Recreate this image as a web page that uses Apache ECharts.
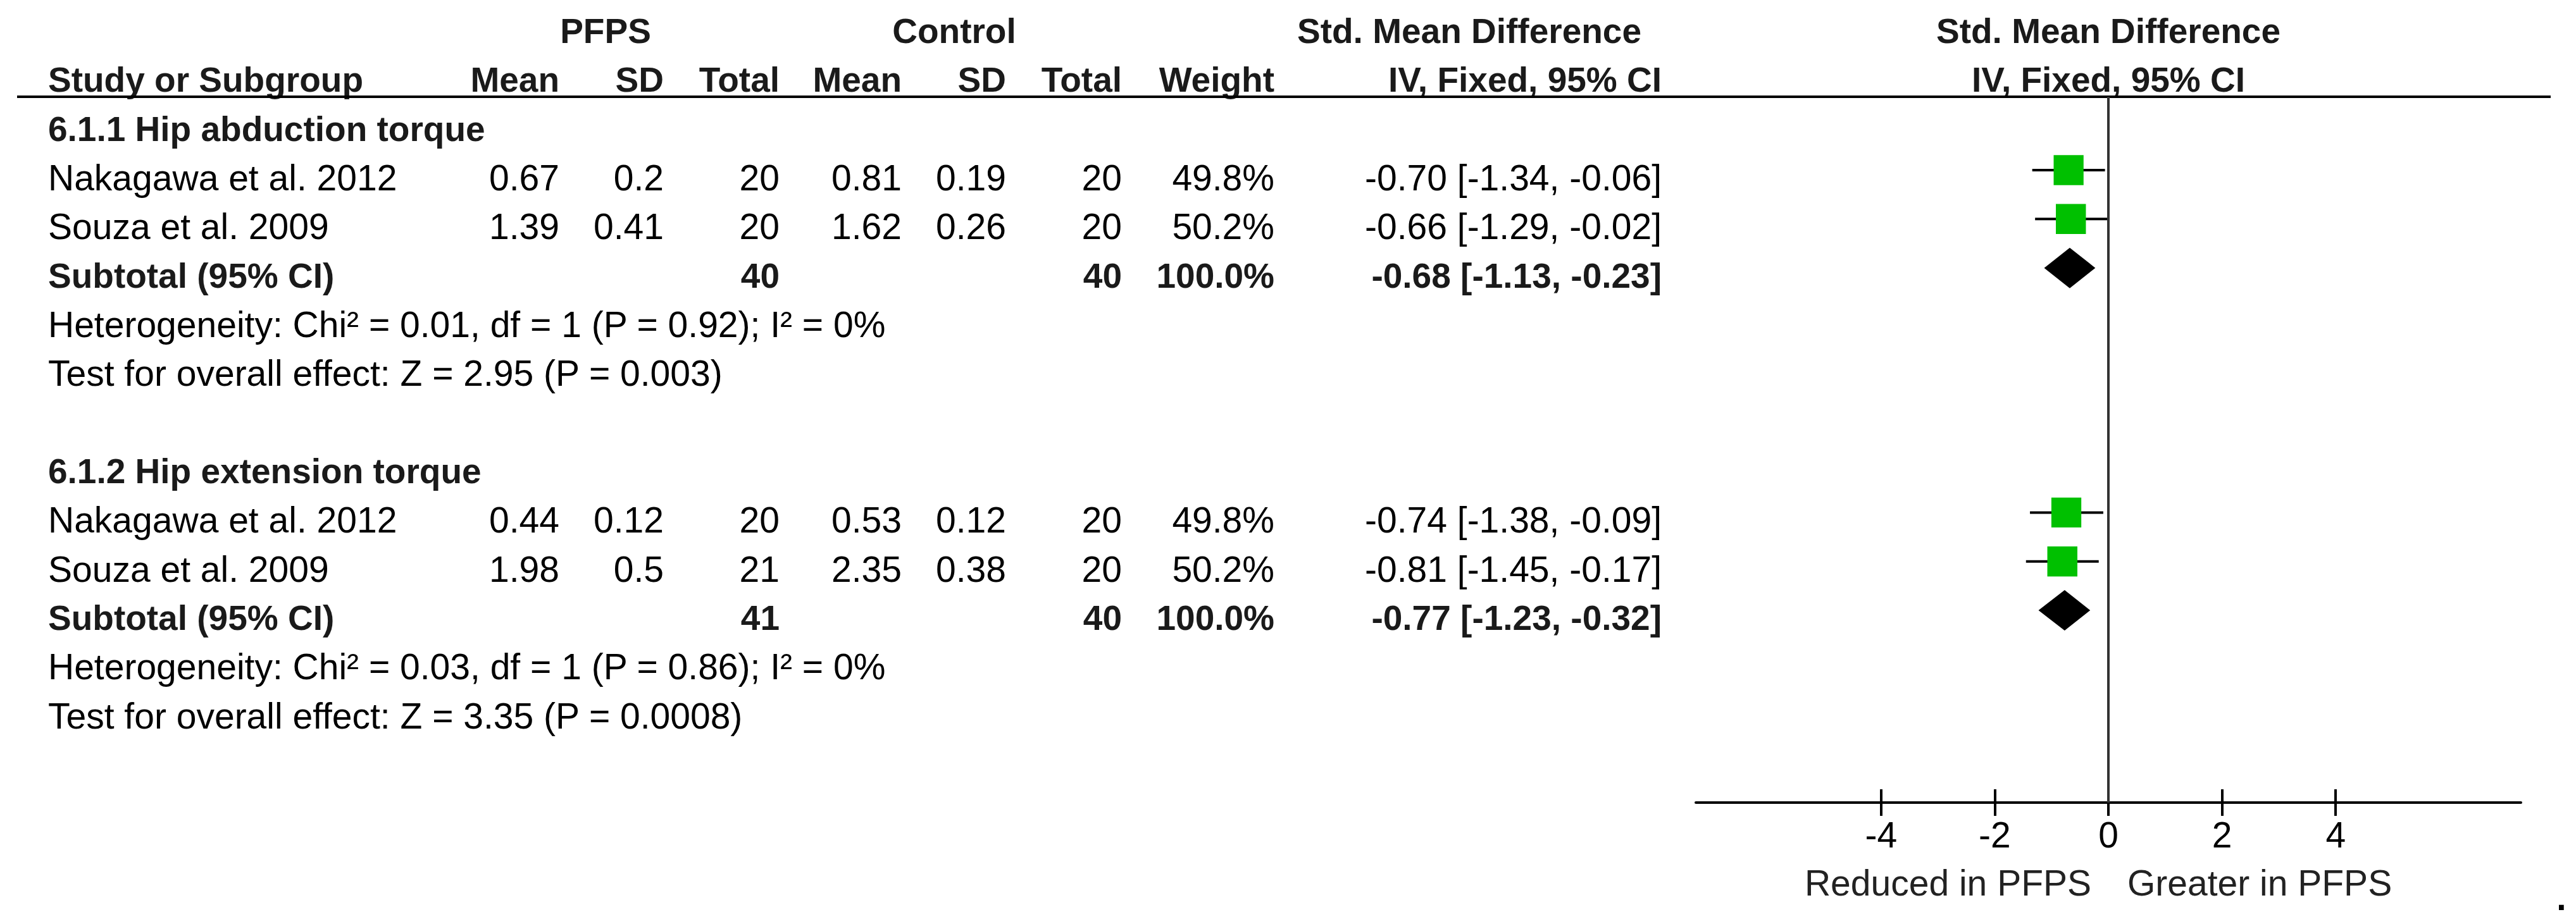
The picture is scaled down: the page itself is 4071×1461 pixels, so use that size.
<!DOCTYPE html>
<html><head><meta charset="utf-8">
<script src="https://cdn.jsdelivr.net/npm/echarts@6/dist/echarts.min.js"></script>
<style>html,body{margin:0;padding:0;background:#fff}#c{width:4071px;height:1461px}</style>
</head><body><div id="c"></div>
<script>
// ---------- data ----------
const groupNames = ['6.1.1 Hip abduction torque', '6.1.2 Hip extension torque'];
const studyNames = ['Nakagawa et al. 2012', 'Souza et al. 2009', 'Nakagawa et al. 2012', 'Souza et al. 2009'];
const studyGroup = [0, 0, 1, 1];
const pfpsMean = [0.67, 1.39, 0.44, 1.98];
const pfpsSD = [0.2, 0.41, 0.12, 0.5];
const pfpsTotal = [20, 20, 20, 21];
const ctrlMean = [0.81, 1.62, 0.53, 2.35];
const ctrlSD = [0.19, 0.26, 0.12, 0.38];
const ctrlTotal = [20, 20, 20, 20];
const weight = [49.8, 50.2, 49.8, 50.2];
const smd = [-0.70, -0.66, -0.74, -0.81];
const ciLow = [-1.34, -1.29, -1.38, -1.45];
const ciHigh = [-0.06, -0.02, -0.09, -0.17];
const subPfpsTotal = [40, 41];
const subCtrlTotal = [40, 40];
const subWeight = [100.0, 100.0];
const subSmd = [-0.68, -0.77];
const subLow = [-1.13, -1.23];
const subHigh = [-0.23, -0.32];
const hetChi = ['0.01', '0.03'];
const hetDf = [1, 1];
const hetP = ['0.92', '0.86'];
const hetI2 = [0, 0];
const effZ = ['2.95', '3.35'];
const effP = ['0.003', '0.0008'];
const tickValues = [-4, -2, 0, 2, 4];
const leftLabel = 'Reduced in PFPS';
const rightLabel = 'Greater in PFPS';

// ---------- layout ----------
const FONT = '"Liberation Sans", Arial, Helvetica, sans-serif';
const FS = 57, FSB = 55;
const COL = {name: 76, pM: 884, pSD: 1049, pN: 1232, cM: 1425, cSD: 1590, cN: 1773, w: 2014, ci: 2626};
const TEXT_DY = 12;

// row indices
const groupRow = [], studyRow = [], subRow = [], hetRow = [], testRow = [];
let k = 0;
for (let g = 0; g < groupNames.length; g++) {
  groupRow[g] = k++;
  for (let i = 0; i < studyNames.length; i++) if (studyGroup[i] === g) studyRow[i] = k++;
  subRow[g] = k++;
  hetRow[g] = k++;
  testRow[g] = k++;
  k++;
}

const squares = studyNames.map((n, i) => [smd[i], studyRow[i], weight[i]]);
const ciLines = studyNames.map((n, i) => [ciLow[i], ciHigh[i], studyRow[i]]);
const diamonds = groupNames.map((n, g) => [subSmd[g], subLow[g], subHigh[g], subRow[g]]);

const chart = echarts.init(document.getElementById('c'), null, {renderer: 'svg'});
const axisCommon = {type: 'value', min: -7.26, max: 7.26, gridIndex: 0, position: 'bottom', splitLine: {show: false}};
chart.setOption({
  animation: false,
  backgroundColor: '#fff',
  grid: {left: 2680, right: 87, top: 153, bottom: 192, containLabel: false},
  xAxis: [
    Object.assign({}, axisCommon, {
      axisLine: {show: true, onZero: false, lineStyle: {color: '#000', width: 4}},
      axisTick: {show: true, inside: false, length: 21, customValues: tickValues, lineStyle: {color: '#000', width: 4}},
      axisLabel: {show: true, customValues: tickValues, margin: 22, fontSize: FS, fontFamily: FONT, color: '#000'}
    }),
    Object.assign({}, axisCommon, {
      offset: 0,
      axisLine: {show: false, onZero: false},
      axisTick: {show: true, inside: true, length: 21, customValues: tickValues, lineStyle: {color: '#000', width: 4}},
      axisLabel: {show: false}
    })
  ],
  yAxis: {type: 'value', inverse: true, min: -0.5, max: 13.93, show: false},
  series: [
    {
      type: 'custom', name: 'ci', encode: {x: [0, 1], y: 2}, data: ciLines, silent: true, z: 2,
      renderItem: function (params, api) {
        const a = api.coord([api.value(0), api.value(2)]);
        const b = api.coord([api.value(1), api.value(2)]);
        return {type: 'line', shape: {x1: a[0], y1: a[1], x2: b[0], y2: b[1]}, style: {stroke: '#000', lineWidth: 4}};
      }
    },
    {
      type: 'scatter', name: 'study', data: squares, symbol: 'rect', z: 3, silent: true,
      symbolSize: function (v) { return Math.sqrt(v[2]) * 6.7; },
      itemStyle: {color: '#00c000', opacity: 1},
      markLine: {
        silent: true, symbol: ['none', 'none'], label: {show: false},
        lineStyle: {color: '#333', width: 4, type: 'solid'},
        data: [{xAxis: 0}]
      }
    },
    {
      type: 'custom', name: 'subtotal', encode: {x: [0, 1, 2], y: 3}, data: diamonds, silent: true, z: 3,
      renderItem: function (params, api) {
        const c = api.coord([api.value(0), api.value(3)]);
        const l = api.coord([api.value(1), api.value(3)]);
        const r = api.coord([api.value(2), api.value(3)]);
        const h = 32;
        return {type: 'polygon', shape: {points: [[l[0], c[1]], [c[0], c[1] - h], [r[0], c[1]], [c[0], c[1] + h]]}, style: {fill: '#000'}};
      }
    }
  ]
});

// ---------- table text ----------
const yPx = r => chart.convertToPixel({yAxisIndex: 0}, r) + TEXT_DY;
const zeroPx = chart.convertToPixel({xAxisIndex: 0}, 0);
const plotCenter = (chart.convertToPixel({xAxisIndex: 0}, -7.26) + chart.convertToPixel({xAxisIndex: 0}, 7.26)) / 2;
const G = [];
function t(text, x, y, align, bold, color) {
  G.push({type: 'text', silent: true, style: {
    text: String(text), x: x, y: y, textAlign: align, textVerticalAlign: 'middle',
    font: (bold ? 'bold ' + FSB : FS) + 'px ' + FONT, fill: color || (bold ? '#1a1a1a' : '#000')
  }});
}
const ciStr = (m, l, h) => m.toFixed(2) + ' [' + l.toFixed(2) + ', ' + h.toFixed(2) + ']';

// headers
const h1 = yPx(-2), h2 = yPx(-1);
t('PFPS', 957, h1, 'center', true);
t('Control', 1508, h1, 'center', true);
t('Std. Mean Difference', 2322, h1, 'center', true);
t('Std. Mean Difference', plotCenter, h1, 'center', true);
t('Study or Subgroup', COL.name, h2, 'left', true);
t('Mean', COL.pM, h2, 'right', true);
t('SD', COL.pSD, h2, 'right', true);
t('Total', COL.pN, h2, 'right', true);
t('Mean', COL.cM, h2, 'right', true);
t('SD', COL.cSD, h2, 'right', true);
t('Total', COL.cN, h2, 'right', true);
t('Weight', COL.w, h2, 'right', true);
t('IV, Fixed, 95% CI', COL.ci, h2, 'right', true);
t('IV, Fixed, 95% CI', plotCenter, h2, 'center', true);
G.push({type: 'line', silent: true, shape: {x1: 27, y1: 153, x2: 4031, y2: 153}, style: {stroke: '#000', lineWidth: 4}});

for (let g = 0; g < groupNames.length; g++) {
  t(groupNames[g], COL.name, yPx(groupRow[g]), 'left', true);
  const ys = yPx(subRow[g]);
  t('Subtotal (95% CI)', COL.name, ys, 'left', true);
  t(subPfpsTotal[g], COL.pN, ys, 'right', true);
  t(subCtrlTotal[g], COL.cN, ys, 'right', true);
  t(subWeight[g].toFixed(1) + '%', COL.w, ys, 'right', true);
  t(ciStr(subSmd[g], subLow[g], subHigh[g]), COL.ci, ys, 'right', true);
  t('Heterogeneity: Chi\u00b2 = ' + hetChi[g] + ', df = ' + hetDf[g] + ' (P = ' + hetP[g] + '); I\u00b2 = ' + hetI2[g] + '%', COL.name, yPx(hetRow[g]), 'left', false);
  t('Test for overall effect: Z = ' + effZ[g] + ' (P = ' + effP[g] + ')', COL.name, yPx(testRow[g]), 'left', false);
}
for (let i = 0; i < studyNames.length; i++) {
  const y = yPx(studyRow[i]);
  t(studyNames[i], COL.name, y, 'left', false);
  t(pfpsMean[i], COL.pM, y, 'right', false);
  t(pfpsSD[i], COL.pSD, y, 'right', false);
  t(pfpsTotal[i], COL.pN, y, 'right', false);
  t(ctrlMean[i], COL.cM, y, 'right', false);
  t(ctrlSD[i], COL.cSD, y, 'right', false);
  t(ctrlTotal[i], COL.cN, y, 'right', false);
  t(weight[i].toFixed(1) + '%', COL.w, y, 'right', false);
  t(ciStr(smd[i], ciLow[i], ciHigh[i]), COL.ci, y, 'right', false);
}
t(leftLabel, zeroPx - 27, 1396, 'right', false, '#222');
t(rightLabel, zeroPx + 30, 1396, 'left', false, '#222');
t('.', 4048, 1420, 'center', true, '#000');

chart.setOption({graphic: G});
</script>
</body></html>
